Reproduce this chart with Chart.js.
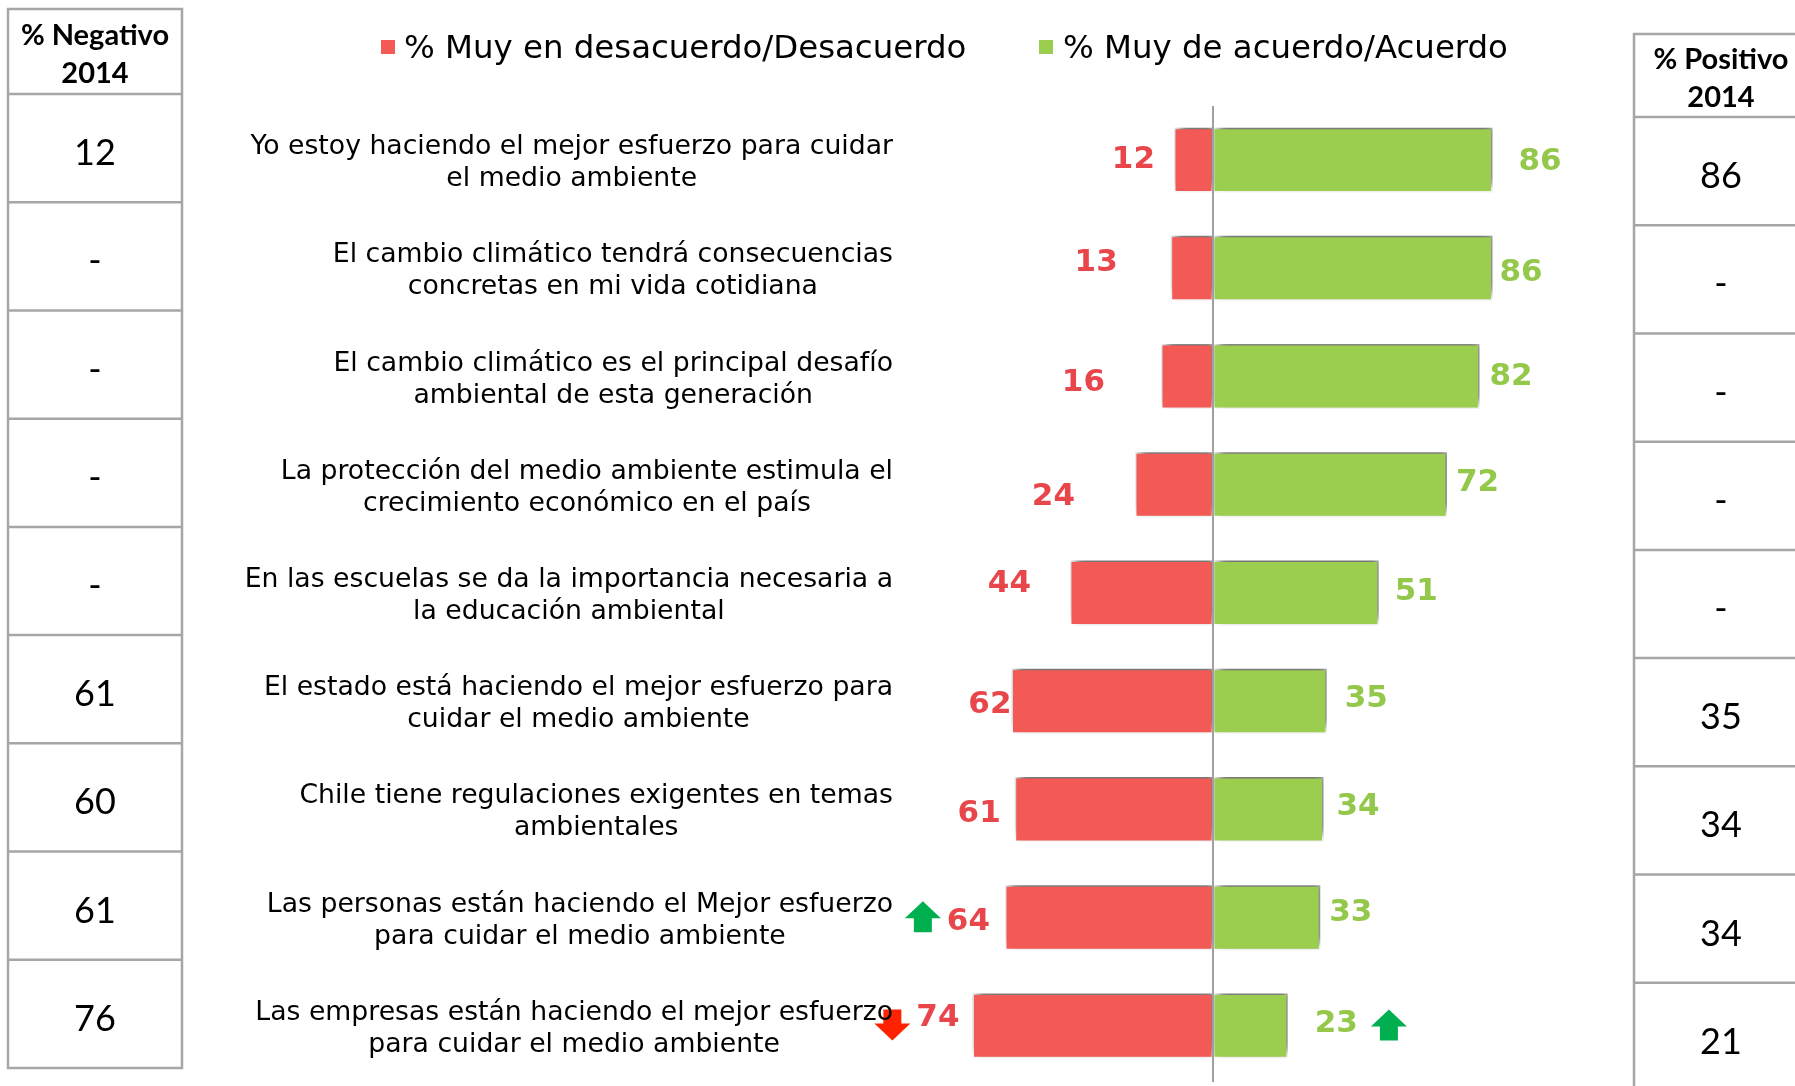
<!DOCTYPE html>
<html>
<head>
<meta charset="utf-8">
<script src="https://cdn.jsdelivr.net/npm/chart.js@4"></script>
<style>
  html, body { margin: 0; padding: 0; background: #fff; }
  #wrap { width: 1795px; height: 1086px; }
</style>
</head>
<body>
<div id="wrap"><canvas id="chart" width="1795" height="1086"></canvas></div>
<script>
// ---- data ----
var categories = [
  ["Yo estoy haciendo el mejor esfuerzo para cuidar", "el medio ambiente"],
  ["El cambio climático tendrá consecuencias", "concretas en mi vida cotidiana"],
  ["El cambio climático es el principal desafío", "ambiental de esta generación"],
  ["La protección del medio ambiente estimula el", "crecimiento económico en el país"],
  ["En las escuelas se da la importancia necesaria a", "la educación ambiental"],
  ["El estado está haciendo el mejor esfuerzo para", "cuidar el medio ambiente"],
  ["Chile tiene regulaciones exigentes en temas", "ambientales"],
  ["Las personas están haciendo el Mejor esfuerzo", "para cuidar el medio ambiente"],
  ["Las empresas están haciendo el mejor esfuerzo", "para cuidar el medio ambiente"]
];
var disagree = [12, 13, 16, 24, 44, 62, 61, 64, 74];
var agree = [86, 86, 82, 72, 51, 35, 34, 33, 23];
var negative2014 = ["12", "-", "-", "-", "-", "61", "60", "61", "76"];
var positive2014 = ["86", "-", "-", "-", "-", "35", "34", "34", "21"];
// 1 = up arrow, -1 = down arrow
var disagreeTrend = [0, 0, 0, 0, 0, 0, 0, 1, -1];
var agreeTrend = [0, 0, 0, 0, 0, 0, 0, 0, 1];
var seriesLabels = ["% Muy en desacuerdo/Desacuerdo", "% Muy de acuerdo/Acuerdo"];
var negHeader = ["% Negativo", "2014"];
var posHeader = ["% Positivo", "2014"];

// ---- look ----
var RED = "#F45A55";
var GREEN = "#9BCD4F";
var RED_TXT = "#E8464B";
var GREEN_TXT = "#93C84A";
var ARROW_UP = "#00B050";
var ARROW_DOWN = "#FF2200";
var GRID = "#A6A6A6";
var LABEL_FONT = "'DejaVu Sans', Verdana, sans-serif";
var TABLE_FONT = "Lato, 'Open Sans', sans-serif";

// value labels were nudged by hand on the slide (px from bar end / centre)
var redGap = [19, 53, 56, 60, 39, 0, 14, 15, 13];
var redDy = [0, -5, 6, 12, -9, 4, 5, 4, -8];
var greenGap = [26, 7, 10, 9, 16, 18, 13, 9, 27];
var greenDy = [2, 5, 0, -2, -1, -2, -2, -5, -2];

function drawArrow(ctx, cx, cy, dir, color) {
  var w = 36, h = 31, head = 17, stem = 18;
  var tip = cy - dir * h / 2;
  var neck = tip + dir * head;
  var tail = cy + dir * h / 2;
  ctx.beginPath();
  ctx.moveTo(cx, tip);
  ctx.lineTo(cx + w / 2, neck);
  ctx.lineTo(cx + stem / 2, neck);
  ctx.lineTo(cx + stem / 2, tail);
  ctx.lineTo(cx - stem / 2, tail);
  ctx.lineTo(cx - stem / 2, neck);
  ctx.lineTo(cx - w / 2, neck);
  ctx.closePath();
  ctx.fillStyle = color;
  ctx.fill();
}

function drawTable(chart, x0, x1, headTop, shift, header, values) {
  var ctx = chart.ctx;
  var y = chart.scales.y;
  var band = y.getPixelForValue(1) - y.getPixelForValue(0);
  var headBottom = y.getPixelForValue(0) - band / 2 + shift;
  var bottom = y.getPixelForValue(values.length - 1) + band / 2 + shift;
  var cx = (x0 + x1) / 2;

  ctx.save();
  ctx.strokeStyle = GRID;
  ctx.lineWidth = 2.5;
  ctx.strokeRect(x0, headTop, x1 - x0, bottom - headTop);
  ctx.beginPath();
  for (var i = 0; i < values.length; i++) {
    var top = y.getPixelForValue(i) - band / 2 + shift;
    ctx.moveTo(x0, top);
    ctx.lineTo(x1, top);
  }
  ctx.stroke();

  ctx.fillStyle = "#000";
  ctx.textAlign = "center";
  ctx.textBaseline = "alphabetic";
  var hc = (headTop + headBottom) / 2;
  ctx.font = "bold 29px " + TABLE_FONT;
  ctx.fillText(header[0], cx, hc - 7);
  ctx.fillText(header[1], cx, hc + 31);

  ctx.font = "36px " + TABLE_FONT;
  for (var j = 0; j < values.length; j++) {
    ctx.fillText(values[j], cx, y.getPixelForValue(j) + shift + 17);
  }
  ctx.restore();
}

var overlay = {
  id: "overlay",
  beforeDatasetsDraw: function (chart) {
    var ctx = chart.ctx;
    ctx.save();
    ctx.shadowColor = "rgba(0, 0, 0, 0.65)";
    ctx.shadowBlur = 9;
    ctx.shadowOffsetX = 3;
    ctx.shadowOffsetY = -5;
  },
  afterDatasetsDraw: function (chart) {
    var ctx = chart.ctx;
    ctx.restore();
    var x = chart.scales.x;
    var y = chart.scales.y;
    var zero = x.getPixelForValue(0);

    // zero line
    ctx.save();
    ctx.strokeStyle = "#A0A0A0";
    ctx.lineWidth = 2;
    ctx.beginPath();
    ctx.moveTo(zero, chart.chartArea.top);
    ctx.lineTo(zero, chart.chartArea.bottom + 2);
    ctx.stroke();

    // value labels + trend arrows
    ctx.font = "bold 31px " + LABEL_FONT;
    ctx.textBaseline = "middle";
    for (var i = 0; i < disagree.length; i++) {
      var yc = y.getPixelForValue(i);

      var rx = x.getPixelForValue(-disagree[i]) - redGap[i];
      ctx.textAlign = "right";
      ctx.fillStyle = RED_TXT;
      ctx.fillText(String(disagree[i]), rx, yc + redDy[i]);
      if (disagreeTrend[i] !== 0) {
        var rw = ctx.measureText(String(disagree[i])).width;
        drawArrow(ctx, rx - rw - 6 - 18, yc - 1, disagreeTrend[i],
          disagreeTrend[i] > 0 ? ARROW_UP : ARROW_DOWN);
      }

      var gx = x.getPixelForValue(agree[i]) + greenGap[i];
      ctx.textAlign = "left";
      ctx.fillStyle = GREEN_TXT;
      ctx.fillText(String(agree[i]), gx, yc + greenDy[i]);
      if (agreeTrend[i] !== 0) {
        var gw = ctx.measureText(String(agree[i])).width;
        drawArrow(ctx, gx + gw + 13 + 18, yc - 1, agreeTrend[i],
          agreeTrend[i] > 0 ? ARROW_UP : ARROW_DOWN);
      }
    }

    // category texts: centred block, right edge lined up
    ctx.font = "26.7px " + LABEL_FONT;
    ctx.fillStyle = "#000";
    ctx.textAlign = "center";
    ctx.textBaseline = "alphabetic";
    for (var k = 0; k < categories.length; k++) {
      var lines = categories[k];
      var maxW = 0;
      lines.forEach(function (l) { maxW = Math.max(maxW, ctx.measureText(l).width); });
      var cx = 893 - maxW / 2;
      var yk = y.getPixelForValue(k);
      ctx.fillText(lines[0], cx, yk - 6);
      ctx.fillText(lines[1], cx, yk + 26);
    }

    // legend
    ctx.font = "32.4px " + LABEL_FONT;
    ctx.textAlign = "left";
    ctx.fillStyle = RED;
    ctx.fillRect(381, 40, 14, 14);
    ctx.fillStyle = GREEN;
    ctx.fillRect(1039, 40, 14, 14);
    ctx.fillStyle = "#000";
    ctx.fillText(seriesLabels[0], 404, 58);
    ctx.fillText(seriesLabels[1], 1063, 58);
    ctx.restore();

    drawTable(chart, 8, 182, 9, -12, negHeader, negative2014);
    drawTable(chart, 1634, 1808, 34, 11, posHeader, positive2014);
  }
};

var ctx = document.getElementById("chart");
var chart = new Chart(ctx, {
  type: "bar",
  data: {
    labels: categories,
    datasets: [
      {
        label: seriesLabels[0],
        data: disagree.map(function (v) { return -v; }),
        backgroundColor: RED,
        borderColor: "#fff",
        borderWidth: 1.5,
        borderSkipped: false
      },
      {
        label: seriesLabels[1],
        data: agree,
        backgroundColor: GREEN,
        borderColor: "#fff",
        borderWidth: 1.5,
        borderSkipped: false
      }
    ]
  },
  options: {
    indexAxis: "y",
    responsive: false,
    devicePixelRatio: 1,
    animation: false,
    events: [],
    layout: { padding: { left: 888, right: 257, top: 106, bottom: 6 } },
    datasets: { bar: { barPercentage: 0.6, categoryPercentage: 1 } },
    scales: {
      x: { stacked: true, min: -100, max: 100, display: false },
      y: { stacked: true, display: false }
    },
    plugins: {
      legend: { display: false },
      tooltip: { enabled: false }
    }
  },
  plugins: [overlay]
});
</script>
</body>
</html>
